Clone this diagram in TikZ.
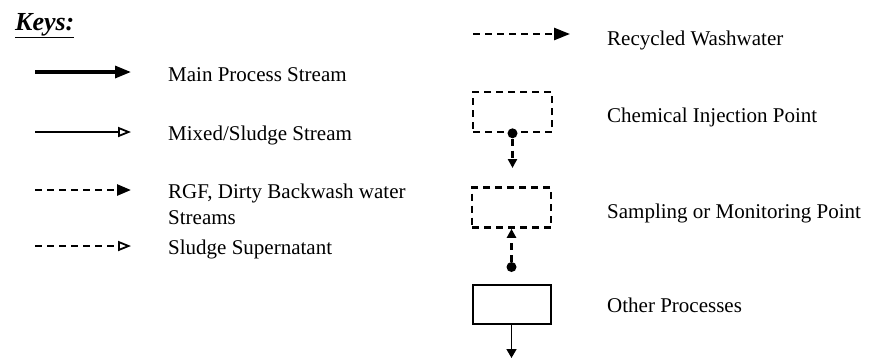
\documentclass[tikz,border=0pt]{standalone}
\usepackage{fontspec}
\setmainfont{Liberation Serif}
\usetikzlibrary{arrows.meta}
\begin{document}
\begin{tikzpicture}[x=1pt,y=-1pt,
  lbl/.style={anchor=base west, inner sep=0pt, align=left,
    font=\fontsize{21}{26}\selectfont},
  keytitle/.style={anchor=base west, inner sep=0pt,
    font=\fontsize{26}{30}\selectfont\bfseries\itshape},
  dashes/.style={dash pattern=on 7pt off 5pt},
  mainflow/.style={line width=3.2pt, -{Triangle[length=16pt,width=12pt]}},
  sludgeflow/.style={line width=1.8pt, -{Triangle[open,length=13pt,width=10pt,line width=1.8pt]}},
  washflow/.style={line width=2.6pt, dashes, -{Triangle[length=14pt,width=11pt]}},
  superflow/.style={line width=2.6pt, dashes, -{Triangle[open,length=13pt,width=10pt,line width=1.8pt]}},
  recycleflow/.style={line width=2.6pt, dashes, -{Triangle[length=16pt,width=12pt]}},
  tapflow/.style={line width=2.6pt, dashes, -{Triangle[length=9pt,width=9pt]}},
  outflow/.style={line width=1.6pt, -{Triangle[length=9pt,width=10pt]}},
  pointbox/.style={draw, line width=2.6pt, dashes, minimum width=79pt,
    minimum height=40pt, inner sep=0pt},
  procbox/.style={draw, line width=2pt, minimum width=78pt,
    minimum height=39pt, inner sep=0pt},
  dot/.style={circle, fill, inner sep=0pt, minimum size=10pt}
]
\useasboundingbox (0,0) rectangle (873,357);

% title
\node[keytitle] (keys) at (15,30) {\underline{Keys:}};

% left column: stream types
\coordinate (m0) at (35,72);   \coordinate (m1) at (131,72);
\coordinate (s0) at (35,132);  \coordinate (s1) at (131,132);
\coordinate (w0) at (35,190);  \coordinate (w1) at (131,190);
\coordinate (u0) at (35,246);  \coordinate (u1) at (131,246);
\draw[mainflow]   (m0) -- (m1);
\draw[sludgeflow] (s0) -- (s1);
\draw[washflow]   (w0) -- (w1);
\draw[superflow]  (u0) -- (u1);

\node[lbl] (tmain)  at (168,81)  {Main Process Stream};
\node[lbl] (tsludge) at (168,140) {Mixed/Sludge Stream};
% two-line label: the base anchor sits on its last line
\node[lbl] (twash)  at (168,224) {RGF, Dirty Backwash water\\Streams};
\node[lbl] (tsuper) at (168,254) {Sludge Supernatant};

% right column
\coordinate (r0) at (473,34); \coordinate (r1) at (570,34);
\draw[recycleflow] (r0) -- (r1);
\node[lbl] (trecycle) at (607,45) {Recycled Washwater};

% chemical injection point
\node[pointbox] (chem) at (512.5,112) {};
\node[dot] (chemdot) at (chem.south) {};
\coordinate (chemout) at (512.5,168);
\draw[tapflow] (chemdot) -- (chemout);
\node[lbl] (tchem) at (607,122) {Chemical Injection Point};

% sampling or monitoring point
\node[pointbox] (samp) at (511.5,207.5) {};
\node[dot] (sampdot) at (511.5,267) {};
\draw[tapflow] (sampdot) -- (samp.south);
\node[lbl] (tsamp) at (607,218) {Sampling or Monitoring Point};

% other processes
\node[procbox] (other) at (511.5,304.5) {};
\coordinate (otherout) at (511.5,358);
\draw[outflow] (other.south) -- (otherout);
\node[lbl] (tother) at (607,312) {Other Processes};
\end{tikzpicture}
\end{document}
